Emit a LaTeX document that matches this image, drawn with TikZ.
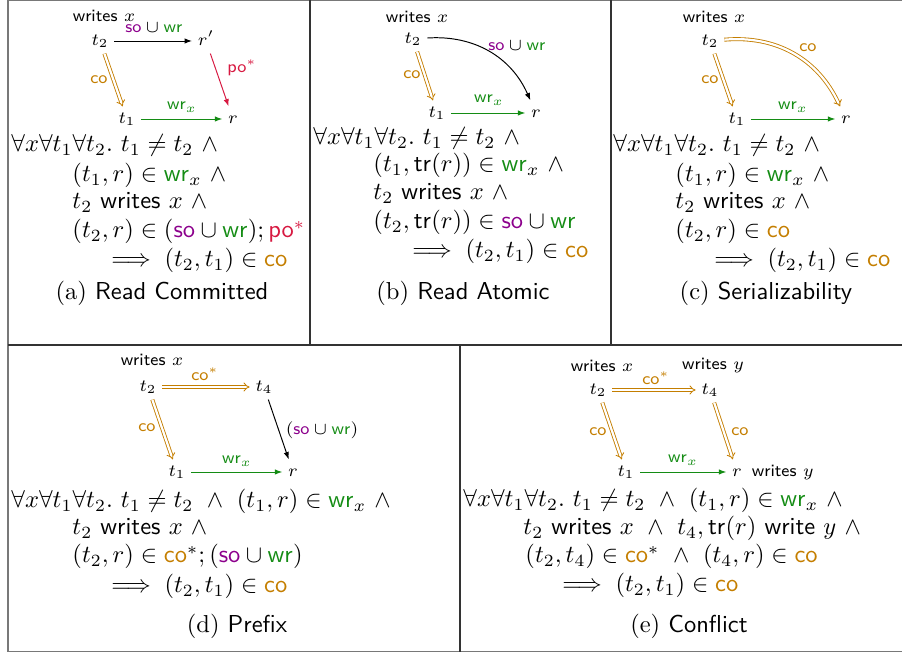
\documentclass[tikz,border=0pt]{standalone}
\usetikzlibrary{arrows.meta}
\definecolor{coc}{RGB}{196,126,0}
\definecolor{wrc}{RGB}{20,140,20}
\definecolor{soc}{RGB}{140,0,140}
\definecolor{poc}{RGB}{215,25,65}
\definecolor{framec}{RGB}{120,120,120}
\newcommand{\rwr}{\textcolor{wrc}{\mathsf{wr}}}
\newcommand{\rso}{\textcolor{soc}{\mathsf{so}}}
\newcommand{\rco}{\textcolor{coc}{\mathsf{co}}}
\newcommand{\rpo}{\textcolor{poc}{\mathsf{po}^*}}
\newcommand{\wrt}{\textsf{writes}}
\newcommand{\tand}{\ \land}
\begin{document}
\begin{tikzpicture}[x=0.408pt,y=-0.408pt,
  vx/.style={font=\scriptsize, inner sep=2.2pt, text height=4.4pt, text depth=1.1pt},
  lbl/.style={font=\scriptsize, inner sep=0pt},
  fml/.style={anchor=base west, inner sep=0pt, text height=6pt, text depth=1.5pt},
  capt/.style={anchor=base, inner sep=0pt},
  frame/.style={draw=framec, line width=0.6pt},
  framed/.style={draw=black!80, line width=0.6pt},
  blk/.style={draw=black, line width=0.4pt, -{Latex[length=3pt,width=2.2pt]}},
  wrarr/.style={draw=wrc, line width=0.4pt, -{Latex[length=3pt,width=2.2pt]}},
  poarr/.style={draw=poc, line width=0.4pt, -{Latex[length=3pt,width=2.2pt]}},
  coarr/.style={draw=coc, double=white, double distance=0.9pt, line width=0.35pt, -{Implies}}
]
\useasboundingbox (0,0) rectangle (902,653);
% frames
\draw[frame] (8,0.7) -- (902,0.7);
\draw[frame] (8,0) -- (8,652);
\draw[frame] (8,651.5) -- (902,651.5);
\draw[framed] (8,345) -- (902,345);
\draw[framed] (310,0) -- (310,345);
\draw[framed] (611,0) -- (611,345);
\draw[framed] (460,345) -- (460,652);

% ---------- (a) ----------
\node[lbl] (awx) at (104,16) {\wrt\ $x$};
\node[vx] (a2) at (100,41) {$t_2$};
\node[vx] (ar1) at (206,41) {$r'$};
\node[vx] (a1) at (127,119) {$t_1$};
\node[vx] (ar) at (233,119) {$r$};
\draw[blk] (a2) -- (ar1);
\node[lbl] (al1) at (154,28) {$\rso\cup\rwr$};
\draw[poarr] (ar1) -- (ar);
\node[lbl] (al2) at (242,68) {$\rpo$};
\draw[coarr] (a2) -- (a1);
\node[lbl] (al3) at (99,80) {$\rco$};
\draw[wrarr] (a1) -- (ar);
\node[lbl] (al4) at (182,107) {$\textcolor{wrc}{\mathsf{wr}_x}$};

\node[fml] (fa1) at (11,152) {$\forall x \forall t_1 \forall t_2.\ t_1 \neq t_2 \tand$};
\node[fml] (fa2) at (72,182) {$(t_1, r) \in \rwr_x \tand$};
\node[fml] (fa3) at (72,209) {$t_2$ \wrt\ $x \tand$};
\node[fml] (fa4) at (72,238) {$(t_2, r) \in (\rso \cup \rwr); \rpo$};
\node[fml] (fa5) at (111,267) {$\Longrightarrow\; (t_2, t_1) \in \rco$};
\node[capt] (capa) at (162,300) {(a) \textsf{Read Committed}};

% ---------- (b) ----------
\node[lbl] (bwx) at (417,17) {\wrt\ $x$};
\node[vx] (b2) at (413,39) {$t_2$};
\node[vx] (b1) at (437,113) {$t_1$};
\node[vx] (br) at (536,113) {$r$};
\draw[blk] (b2) to[bend left=35] (br);
\node[lbl] (bl1) at (517,46) {$\rso\cup\rwr$};
\draw[coarr] (b2) -- (b1);
\node[lbl] (bl2) at (412,75) {$\rco$};
\draw[wrarr] (b1) -- (br);
\node[lbl] (bl3) at (489,100) {$\textcolor{wrc}{\mathsf{wr}_x}$};

\node[fml] (fb1) at (313,145) {$\forall x \forall t_1 \forall t_2.\ t_1 \neq t_2 \tand$};
\node[fml] (fb2) at (373,172) {$(t_1, \mathsf{tr}(r)) \in \rwr_x \tand$};
\node[fml] (fb3) at (373,200) {$t_2$ \wrt\ $x \tand$};
\node[fml] (fb4) at (373,229) {$(t_2, \mathsf{tr}(r)) \in \rso \cup \rwr$};
\node[fml] (fb5) at (412,258) {$\Longrightarrow\; (t_2, t_1) \in \rco$};
\node[capt] (capb) at (463,300) {(b) \textsf{Read Atomic}};

% ---------- (c) ----------
\node[lbl] (cwx) at (714,17) {\wrt\ $x$};
\node[vx] (c2) at (710,41) {$t_2$};
\node[vx] (c1) at (737,119) {$t_1$};
\node[vx] (cr) at (846,119) {$r$};
\draw[coarr] (c2) to[bend left=35] (cr);
\node[lbl] (cl1) at (808,48) {$\rco$};
\draw[coarr] (c2) -- (c1);
\node[lbl] (cl2) at (710,80) {$\rco$};
\draw[wrarr] (c1) -- (cr);
\node[lbl] (cl3) at (793,107) {$\textcolor{wrc}{\mathsf{wr}_x}$};

\node[fml] (fc1) at (613,152) {$\forall x \forall t_1 \forall t_2.\ t_1 \neq t_2 \tand$};
\node[fml] (fc2) at (675,182) {$(t_1, r) \in \rwr_x \tand$};
\node[fml] (fc3) at (675,209) {$t_2$ \wrt\ $x \tand$};
\node[fml] (fc4) at (675,238) {$(t_2, r) \in \rco$};
\node[fml] (fc5) at (714,267) {$\Longrightarrow\; (t_2, t_1) \in \rco$};
\node[capt] (capc) at (766,300) {(c) \textsf{Serializability}};

% ---------- (d) ----------
\node[lbl] (dwx) at (152,360) {\wrt\ $x$};
\node[vx] (d2) at (148,387) {$t_2$};
\node[vx] (d4) at (264,387) {$t_4$};
\node[vx] (d1) at (177,472) {$t_1$};
\node[vx] (dr) at (293,472) {$r$};
\draw[coarr] (d2) -- (d4);
\node[lbl] (dl1) at (205,374) {$\textcolor{coc}{\mathsf{co}^*}$};
\draw[coarr] (d2) -- (d1);
\node[lbl] (dl2) at (147,428) {$\rco$};
\draw[blk] (d4) -- (dr);
\node[lbl] (dl3) at (322,430) {$(\rso\cup\rwr)$};
\draw[wrarr] (d1) -- (dr);
\node[lbl] (dl4) at (237,461) {$\textcolor{wrc}{\mathsf{wr}_x}$};

\node[fml] (fd1) at (11,508) {$\forall x \forall t_1 \forall t_2.\ t_1 \neq t_2 \ \land\ (t_1, r) \in \rwr_x \tand$};
\node[fml] (fd2) at (72,535) {$t_2$ \wrt\ $x \tand$};
\node[fml] (fd3) at (72,563) {$(t_2, r) \in \rco^*; (\rso \cup \rwr)$};
\node[fml] (fd4) at (111,593) {$\Longrightarrow\; (t_2, t_1) \in \rco$};
\node[capt] (capd) at (237,633) {(d) \textsf{Prefix}};

% ---------- (e) ----------
\node[lbl] (ewx) at (602,366) {\wrt\ $x$};
\node[lbl] (ewy) at (713,366) {\wrt\ $y$};
\node[vx] (e2) at (598,390) {$t_2$};
\node[vx] (e4) at (710,390) {$t_4$};
\node[vx] (e1) at (626,472) {$t_1$};
\node[vx] (er) at (737,472) {$r$};
\node[lbl, anchor=base west] (ewy2) at ([xshift=1.5pt]er.base east) {\wrt\ $y$};
\draw[coarr] (e2) -- (e4);
\node[lbl] (el1) at (656,378) {$\textcolor{coc}{\mathsf{co}^*}$};
\draw[coarr] (e2) -- (e1);
\node[lbl] (el2) at (598,432) {$\rco$};
\draw[coarr] (e4) -- (er);
\node[lbl] (el3) at (740,432) {$\rco$};
\draw[wrarr] (e1) -- (er);
\node[lbl] (el4) at (683,460) {$\textcolor{wrc}{\mathsf{wr}_x}$};

\node[fml] (fe1) at (463,507) {$\forall x \forall t_1 \forall t_2.\ t_1 \neq t_2 \ \land\ (t_1, r) \in \rwr_x \tand$};
\node[fml] (fe2) at (523,535) {$t_2$ \wrt\ $x \ \land\ t_4, \mathsf{tr}(r)$ \textsf{write} $y \tand$};
\node[fml] (fe3) at (525,563) {$(t_2, t_4) \in \rco^* \ \land\ (t_4, r) \in \rco$};
\node[fml] (fe4) at (562,592) {$\Longrightarrow\; (t_2, t_1) \in \rco$};
\node[capt] (cape) at (689,633) {(e) \textsf{Conflict}};
\end{tikzpicture}
\end{document}
